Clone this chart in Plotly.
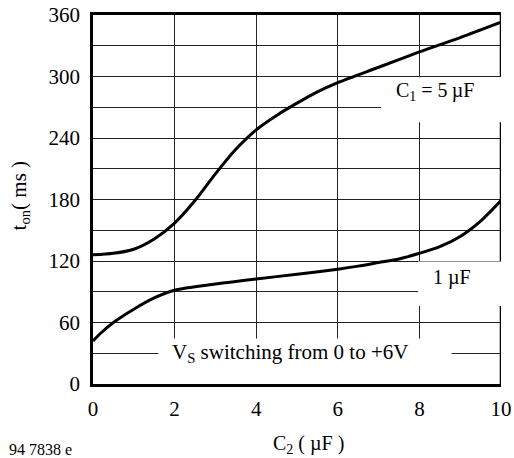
import plotly.graph_objects as go

# ---- data ----
c2_5uF = [0, 0.5, 1, 1.5, 2, 2.5, 3, 3.5, 4, 4.5, 5, 5.5, 6, 7, 8, 9, 10]
ton_5uF = [126, 127.5, 131.5, 141.5, 157, 179, 205, 229, 248, 262, 274, 285, 294, 309, 324, 338, 353]

c2_1uF = [0, 0.2, 0.5, 1, 1.5, 2, 3, 4, 5, 6, 6.5, 7, 7.5, 8, 8.5, 9, 9.5, 10]
ton_1uF = [42, 50, 60, 73, 84, 91.5, 97.5, 102.5, 107, 112, 115, 118.5, 122, 127.5, 134, 144, 159, 179]

x_ticks = [0, 2, 4, 6, 8, 10]
y_ticks = [0, 60, 120, 180, 240, 300, 360]
y_minor_grid = [30, 90, 150, 210, 270, 330]

label_5uF = "C<sub>1</sub> = 5\u2009µF"
label_1uF = "1 µF"
label_vs = "V<sub>S</sub> switching from 0 to +6V"
x_title = "C<sub>2</sub> ( µF )"
y_title = "t<sub>on</sub>( ms )"
fig_code = "94 7838 e"

FONT = "Liberation Serif, Times New Roman, serif"
GRID = "#222"

fig = go.Figure()
for xs, ys in [(c2_5uF, ton_5uF), (c2_1uF, ton_1uF)]:
    fig.add_trace(go.Scatter(x=xs, y=ys, mode="lines",
                             line=dict(color="black", width=3, shape="spline", smoothing=0.8),
                             showlegend=False, hoverinfo="skip", cliponaxis=False))

shapes = []
# white boxes that interrupt the grid behind the labels
for x0, x1, y0, y1 in [(7.06, 10.2, 255.3, 299.2), (7.97, 10.2, 76.0, 119.4), (1.6, 8.79, -5, 44.3)]:
    shapes.append(dict(type="rect", xref="x", yref="y", x0=x0, x1=x1, y0=y0, y1=y1,
                       fillcolor="white", line=dict(width=0), layer="between"))
# right border with gaps
for y0, y1 in [(300, 361), (120, 255.3), (-1, 76)]:
    shapes.append(dict(type="line", xref="x", yref="y", x0=10, x1=10, y0=y0, y1=y1,
                       line=dict(color="black", width=2.5), layer="above"))

def ann(x, y, text, size, xref="x", yref="y", **kw):
    d = dict(x=x, y=y, xref=xref, yref=yref, text=text, showarrow=False,
             xanchor="center", yanchor="middle",
             font=dict(family=FONT, size=size, color="black"))
    d.update(kw)
    return d

annotations = [
    ann(8.38, 285, label_5uF, 20),
    ann(8.79, 104, label_1uF, 20),
    ann(4.84, 30, label_vs, 21),
    ann(5.27, -0.165, x_title, 20, yref="paper"),
    ann(-0.179, 0.511, y_title, 21, xref="paper", yref="paper", textangle=-90),
    ann(-0.211, -0.178, fig_code, 16, xref="paper", yref="paper", xanchor="left"),
]

fig.update_layout(
    template="none",
    width=514, height=458,
    margin=dict(l=93, r=13, t=15, b=74, pad=0),
    paper_bgcolor="white", plot_bgcolor="white",
    shapes=shapes, annotations=annotations,
    font=dict(family=FONT, size=21, color="black"),
    xaxis=dict(range=[0, 10], tickvals=x_ticks, ticktext=[str(v) for v in x_ticks],
               showgrid=True, gridcolor=GRID, gridwidth=1, zeroline=False, automargin=False,
               showline=True, linecolor="black", linewidth=2.5, mirror=True,
               ticks="", ticklabelstandoff=4, tickfont=dict(family=FONT, size=21)),
    yaxis=dict(range=[0, 360], tickvals=y_ticks, ticktext=[str(v) for v in y_ticks],
               showgrid=True, gridcolor=GRID, gridwidth=1, zeroline=False, automargin=False,
               minor=dict(tickvals=y_minor_grid, showgrid=True, gridcolor=GRID, gridwidth=1, ticks=""),
               showline=True, linecolor="black", linewidth=2.5, mirror=False,
               ticks="", ticklabelstandoff=6, tickfont=dict(family=FONT, size=21)),
)

fig.write_html("out.html", config={"displayModeBar": False},
               post_script="document.body.style.margin='0px';")
